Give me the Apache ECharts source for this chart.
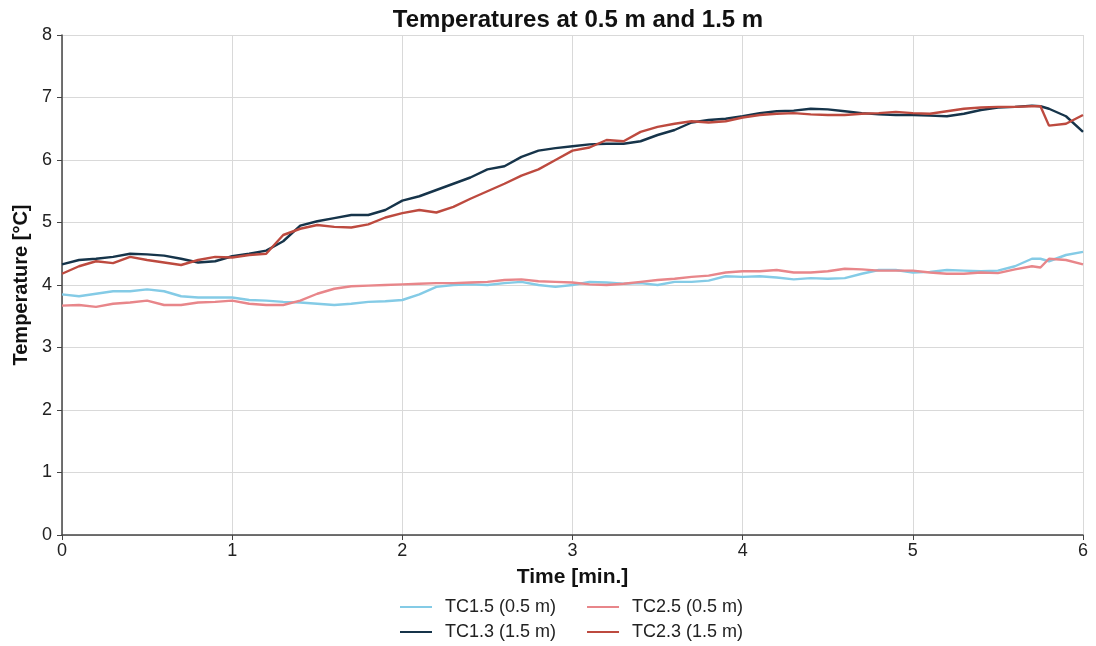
<!DOCTYPE html>
<html>
<head>
<meta charset="utf-8">
<script src="https://cdn.jsdelivr.net/npm/echarts@6/dist/echarts.min.js"></script>
<style>
  html, body { margin: 0; padding: 0; background: #fff; }
  #chart { width: 1096px; height: 646px; }
</style>
</head>
<body>
<div id="chart"></div>
<script>
// time in minutes (0.1 step, plus 5.75 for the TC2.3 drop)
var times = [0, 0.1, 0.2, 0.3, 0.4, 0.5, 0.6, 0.7, 0.8, 0.9,
  1, 1.1, 1.2, 1.3, 1.4, 1.5, 1.6, 1.7, 1.8, 1.9,
  2, 2.1, 2.2, 2.3, 2.4, 2.5, 2.6, 2.7, 2.8, 2.9,
  3, 3.1, 3.2, 3.3, 3.4, 3.5, 3.6, 3.7, 3.8, 3.9,
  4, 4.1, 4.2, 4.3, 4.4, 4.5, 4.6, 4.7, 4.8, 4.9,
  5, 5.1, 5.2, 5.3, 5.4, 5.5, 5.6, 5.7, 5.75, 5.8, 5.9, 6];

var tc15 = [3.85, 3.82, 3.86, 3.90, 3.90, 3.93, 3.90, 3.82, 3.80, 3.80,
  3.80, 3.76, 3.75, 3.73, 3.72, 3.70, 3.68, 3.70, 3.73, 3.74,
  3.76, 3.85, 3.97, 4.00, 4.01, 4.00, 4.03, 4.05, 4.00, 3.97,
  4.00, 4.05, 4.04, 4.02, 4.03, 4.00, 4.05, 4.05, 4.07, 4.14,
  4.13, 4.14, 4.12, 4.09, 4.11, 4.10, 4.11, 4.18, 4.24, 4.24,
  4.20, 4.21, 4.24, 4.23, 4.22, 4.23, 4.30, 4.42, 4.42, 4.38, 4.48, 4.53];

var tc25 = [3.67, 3.68, 3.65, 3.70, 3.72, 3.75, 3.68, 3.68, 3.72, 3.73,
  3.75, 3.70, 3.68, 3.68, 3.75, 3.86, 3.94, 3.98, 3.99, 4.00,
  4.01, 4.02, 4.03, 4.03, 4.04, 4.05, 4.08, 4.09, 4.06, 4.05,
  4.04, 4.01, 4.00, 4.02, 4.05, 4.08, 4.10, 4.13, 4.15, 4.20,
  4.22, 4.22, 4.24, 4.20, 4.20, 4.22, 4.26, 4.25, 4.23, 4.23,
  4.23, 4.20, 4.18, 4.18, 4.20, 4.19, 4.25, 4.30, 4.28, 4.42, 4.40, 4.33];

var tc13 = [4.33, 4.40, 4.42, 4.45, 4.50, 4.49, 4.47, 4.42, 4.36, 4.38,
  4.46, 4.50, 4.55, 4.70, 4.95, 5.02, 5.07, 5.12, 5.12, 5.20,
  5.35, 5.42, 5.52, 5.62, 5.72, 5.85, 5.90, 6.05, 6.15, 6.19,
  6.22, 6.25, 6.26, 6.26, 6.30, 6.40, 6.48, 6.60, 6.64, 6.66,
  6.70, 6.75, 6.78, 6.79, 6.82, 6.81, 6.78, 6.75, 6.73, 6.72,
  6.72, 6.71, 6.70, 6.74, 6.80, 6.84, 6.85, 6.87, 6.86, 6.82, 6.70, 6.45];

var tc23 = [4.18, 4.30, 4.38, 4.35, 4.45, 4.40, 4.36, 4.32, 4.40, 4.45,
  4.44, 4.48, 4.50, 4.80, 4.90, 4.96, 4.93, 4.92, 4.97, 5.08,
  5.15, 5.20, 5.16, 5.25, 5.38, 5.50, 5.62, 5.75, 5.85, 6.00,
  6.15, 6.20, 6.32, 6.30, 6.45, 6.53, 6.58, 6.62, 6.60, 6.62,
  6.68, 6.72, 6.74, 6.75, 6.73, 6.72, 6.72, 6.74, 6.75, 6.77,
  6.75, 6.74, 6.78, 6.82, 6.84, 6.85, 6.85, 6.86, 6.86, 6.55, 6.58, 6.72];

function pairs(ys) {
  return times.map(function (t, i) { return [t, ys[i]]; });
}

var font = "'Liberation Sans', Arial, sans-serif";
var legendText = { fontFamily: font, fontSize: 18, color: '#222', padding: [0, 0, 0, 8] };

var chart = echarts.init(document.getElementById('chart'));
chart.setOption({
  animation: false,
  textStyle: { fontFamily: font },
  title: {
    text: 'Temperatures at 0.5 m and 1.5 m',
    left: 573,
    textAlign: 'center',
    top: 3,
    textStyle: { fontFamily: font, fontSize: 24, fontWeight: 'bold', color: '#111' }
  },
  grid: { left: 62, right: 13, top: 35, bottom: 111, containLabel: false },
  legend: [
    {
      data: ['TC1.5 (0.5 m)', 'TC2.5 (0.5 m)'],
      left: 395, top: 593, itemWidth: 32, itemHeight: 2, itemGap: 31,
      icon: 'rect', textStyle: legendText
    },
    {
      data: ['TC1.3 (1.5 m)', 'TC2.3 (1.5 m)'],
      left: 395, top: 618, itemWidth: 32, itemHeight: 2, itemGap: 31,
      icon: 'rect', textStyle: legendText
    }
  ],
  xAxis: {
    type: 'value', min: 0, max: 6, interval: 1,
    name: 'Time [min.]', nameLocation: 'middle', nameGap: 32,
    nameTextStyle: { fontFamily: font, fontSize: 21, fontWeight: 'bold', color: '#111' },
    axisLine: { lineStyle: { color: '#444', width: 1.5 } },
    axisTick: { show: true, length: 5, lineStyle: { color: '#444' } },
    axisLabel: { fontFamily: font, fontSize: 18, color: '#222', margin: 7 },
    splitLine: { show: true, lineStyle: { color: '#d9d9d9', width: 1 } }
  },
  yAxis: {
    type: 'value', min: 0, max: 8, interval: 1,
    name: 'Temperature [°C]', nameLocation: 'middle', nameGap: 31,
    nameTextStyle: { fontFamily: font, fontSize: 20, fontWeight: 'bold', color: '#111' },
    axisLine: { show: true, lineStyle: { color: '#444', width: 1.5 } },
    axisTick: { show: true, length: 5, lineStyle: { color: '#444' } },
    axisLabel: { fontFamily: font, fontSize: 18, color: '#222', margin: 10 },
    splitLine: { show: true, lineStyle: { color: '#d9d9d9', width: 1 } }
  },
  series: [
    { name: 'TC1.5 (0.5 m)', type: 'line', data: pairs(tc15), showSymbol: false,
      lineStyle: { color: '#84cbe6', width: 2.4 }, itemStyle: { color: '#84cbe6' } },
    { name: 'TC2.5 (0.5 m)', type: 'line', data: pairs(tc25), showSymbol: false,
      lineStyle: { color: '#e8868a', width: 2.4 }, itemStyle: { color: '#e8868a' } },
    { name: 'TC1.3 (1.5 m)', type: 'line', data: pairs(tc13), showSymbol: false,
      lineStyle: { color: '#16344a', width: 2.4 }, itemStyle: { color: '#16344a' } },
    { name: 'TC2.3 (1.5 m)', type: 'line', data: pairs(tc23), showSymbol: false,
      lineStyle: { color: '#bd4a3f', width: 2.4 }, itemStyle: { color: '#bd4a3f' } }
  ]
});
</script>
</body>
</html>
